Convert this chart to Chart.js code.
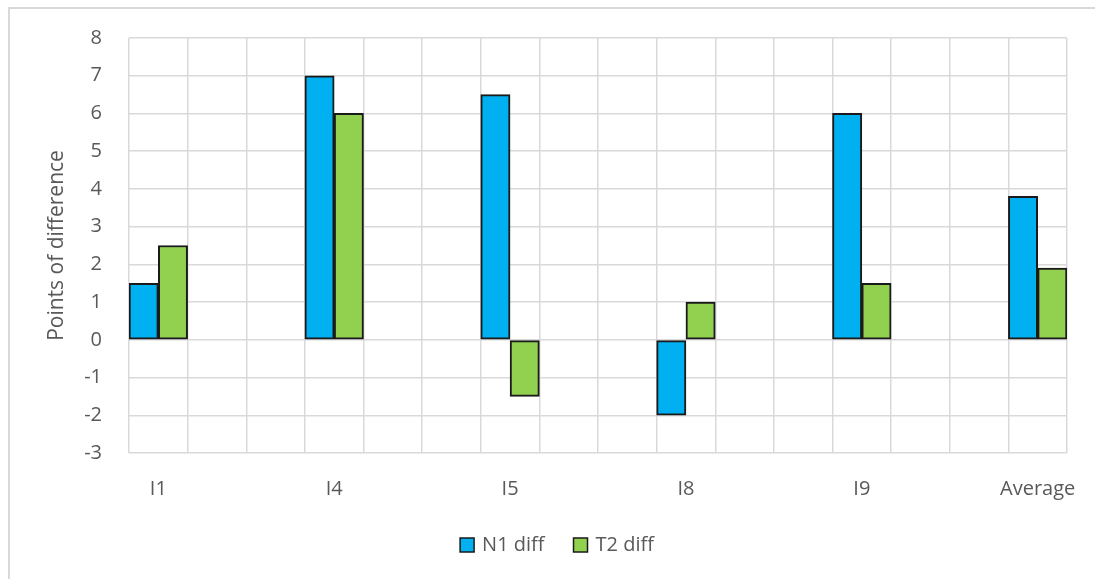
<!DOCTYPE html>
<html>
<head>
<meta charset="utf-8">
<title>Points of difference</title>
<script src="https://cdn.jsdelivr.net/npm/chart.js@4.4.1/dist/chart.umd.min.js"></script>
<style>
  html, body { margin: 0; padding: 0; background: #ffffff; }
  #wrap { width: 1095px; height: 579px; position: relative; }
</style>
</head>
<body>
<div id="wrap"><canvas id="chart"></canvas></div>
<script>
// Items along the category axis (blank slots keep the spacing between items)
const categories = ['I1', '', '', 'I4', '', '', 'I5', '', '', 'I8', '', '', 'I9', '', '', 'Average'];
// Difference in points per item
const n1Diff = [1.5, null, null, 7, null, null, 6.5, null, null, -2, null, null, 6, null, null, 3.8];
const t2Diff = [2.5, null, null, 6, null, null, -1.5, null, null, 1, null, null, 1.5, null, null, 1.9];
// Value axis range
const yMin = -3;
const yMax = 8;
const yStep = 1;

const TEXT = '#595959';
const GRID = '#d9d9d9';
const FONT = '"Open Sans", "Noto Sans", sans-serif';

// Outer frame of the chart object and the legend row underneath
const frameAndLegend = {
  id: 'frameAndLegend',
  beforeDraw(chart) {
    const ctx = chart.ctx;
    ctx.save();
    ctx.strokeStyle = GRID;
    ctx.lineWidth = 2;
    ctx.beginPath();
    ctx.moveTo(9, chart.height);
    ctx.lineTo(9, 8);
    ctx.lineTo(chart.width, 8);
    ctx.stroke();
    ctx.restore();
  },
  afterDraw(chart) {
    const ctx = chart.ctx;
    ctx.save();
    ctx.font = '20px ' + FONT;
    ctx.textBaseline = 'middle';
    ctx.textAlign = 'left';
    const box = 14, textGap = 8, itemGap = 29;
    const items = chart.data.datasets.map(ds => ({
      label: ds.label,
      fill: ds.backgroundColor,
      w: ctx.measureText(ds.label).width
    }));
    const total = items.reduce((s, it) => s + box + textGap + it.w, 0) + itemGap * (items.length - 1);
    let x = 557 - total / 2;
    const y = 545;
    items.forEach(it => {
      ctx.fillStyle = it.fill;
      ctx.fillRect(x, y - box / 2, box, box);
      ctx.strokeStyle = '#1a1a1a';
      ctx.lineWidth = 1.5;
      ctx.strokeRect(x, y - box / 2, box, box);
      ctx.fillStyle = TEXT;
      ctx.fillText(it.label, x + box + textGap, y);
      x += box + textGap + it.w + itemGap;
    });
    ctx.restore();
  }
};

new Chart(document.getElementById('chart'), {
  type: 'bar',
  data: {
    labels: categories,
    datasets: [
      {
        label: 'N1 diff',
        data: n1Diff,
        backgroundColor: '#00b0f0',
        borderColor: '#1a1a1a',
        borderWidth: 2,
        borderSkipped: false
      },
      {
        label: 'T2 diff',
        data: t2Diff,
        backgroundColor: '#92d050',
        borderColor: '#1a1a1a',
        borderWidth: 2,
        borderSkipped: false
      }
    ]
  },
  options: {
    responsive: true,
    maintainAspectRatio: false,
    animation: false,
    layout: { padding: { top: 38, right: 28, bottom: 0, left: 0 } },
    datasets: {
      bar: { categoryPercentage: 1.0, barPercentage: 1.0 }
    },
    plugins: {
      legend: { display: false },
      tooltip: { enabled: false }
    },
    scales: {
      x: {
        type: 'category',
        offset: true,
        grid: { offset: true, color: GRID, lineWidth: 1.5, drawTicks: false },
        border: { display: false },
        ticks: {
          autoSkip: false,
          maxRotation: 0,
          minRotation: 0,
          padding: 24,
          color: TEXT,
          font: { family: FONT, size: 20 }
        },
        afterFit(scale) {
          scale.height = 126;
          scale.paddingLeft = 0;
          scale.paddingRight = 0;
        }
      },
      y: {
        min: yMin,
        max: yMax,
        grid: { color: GRID, lineWidth: 1.5, drawTicks: false },
        border: { display: false },
        ticks: {
          stepSize: yStep,
          padding: 27,
          color: TEXT,
          font: { family: FONT, size: 20 }
        },
        title: {
          display: true,
          text: 'Points of difference',
          color: TEXT,
          font: { family: FONT, size: 21 },
          padding: { top: 44, bottom: 0 }
        },
        afterFit(scale) {
          scale.width = 129;
          scale.paddingTop = 0;
          scale.paddingBottom = 0;
        }
      }
    }
  },
  plugins: [frameAndLegend]
});
</script>
</body>
</html>
